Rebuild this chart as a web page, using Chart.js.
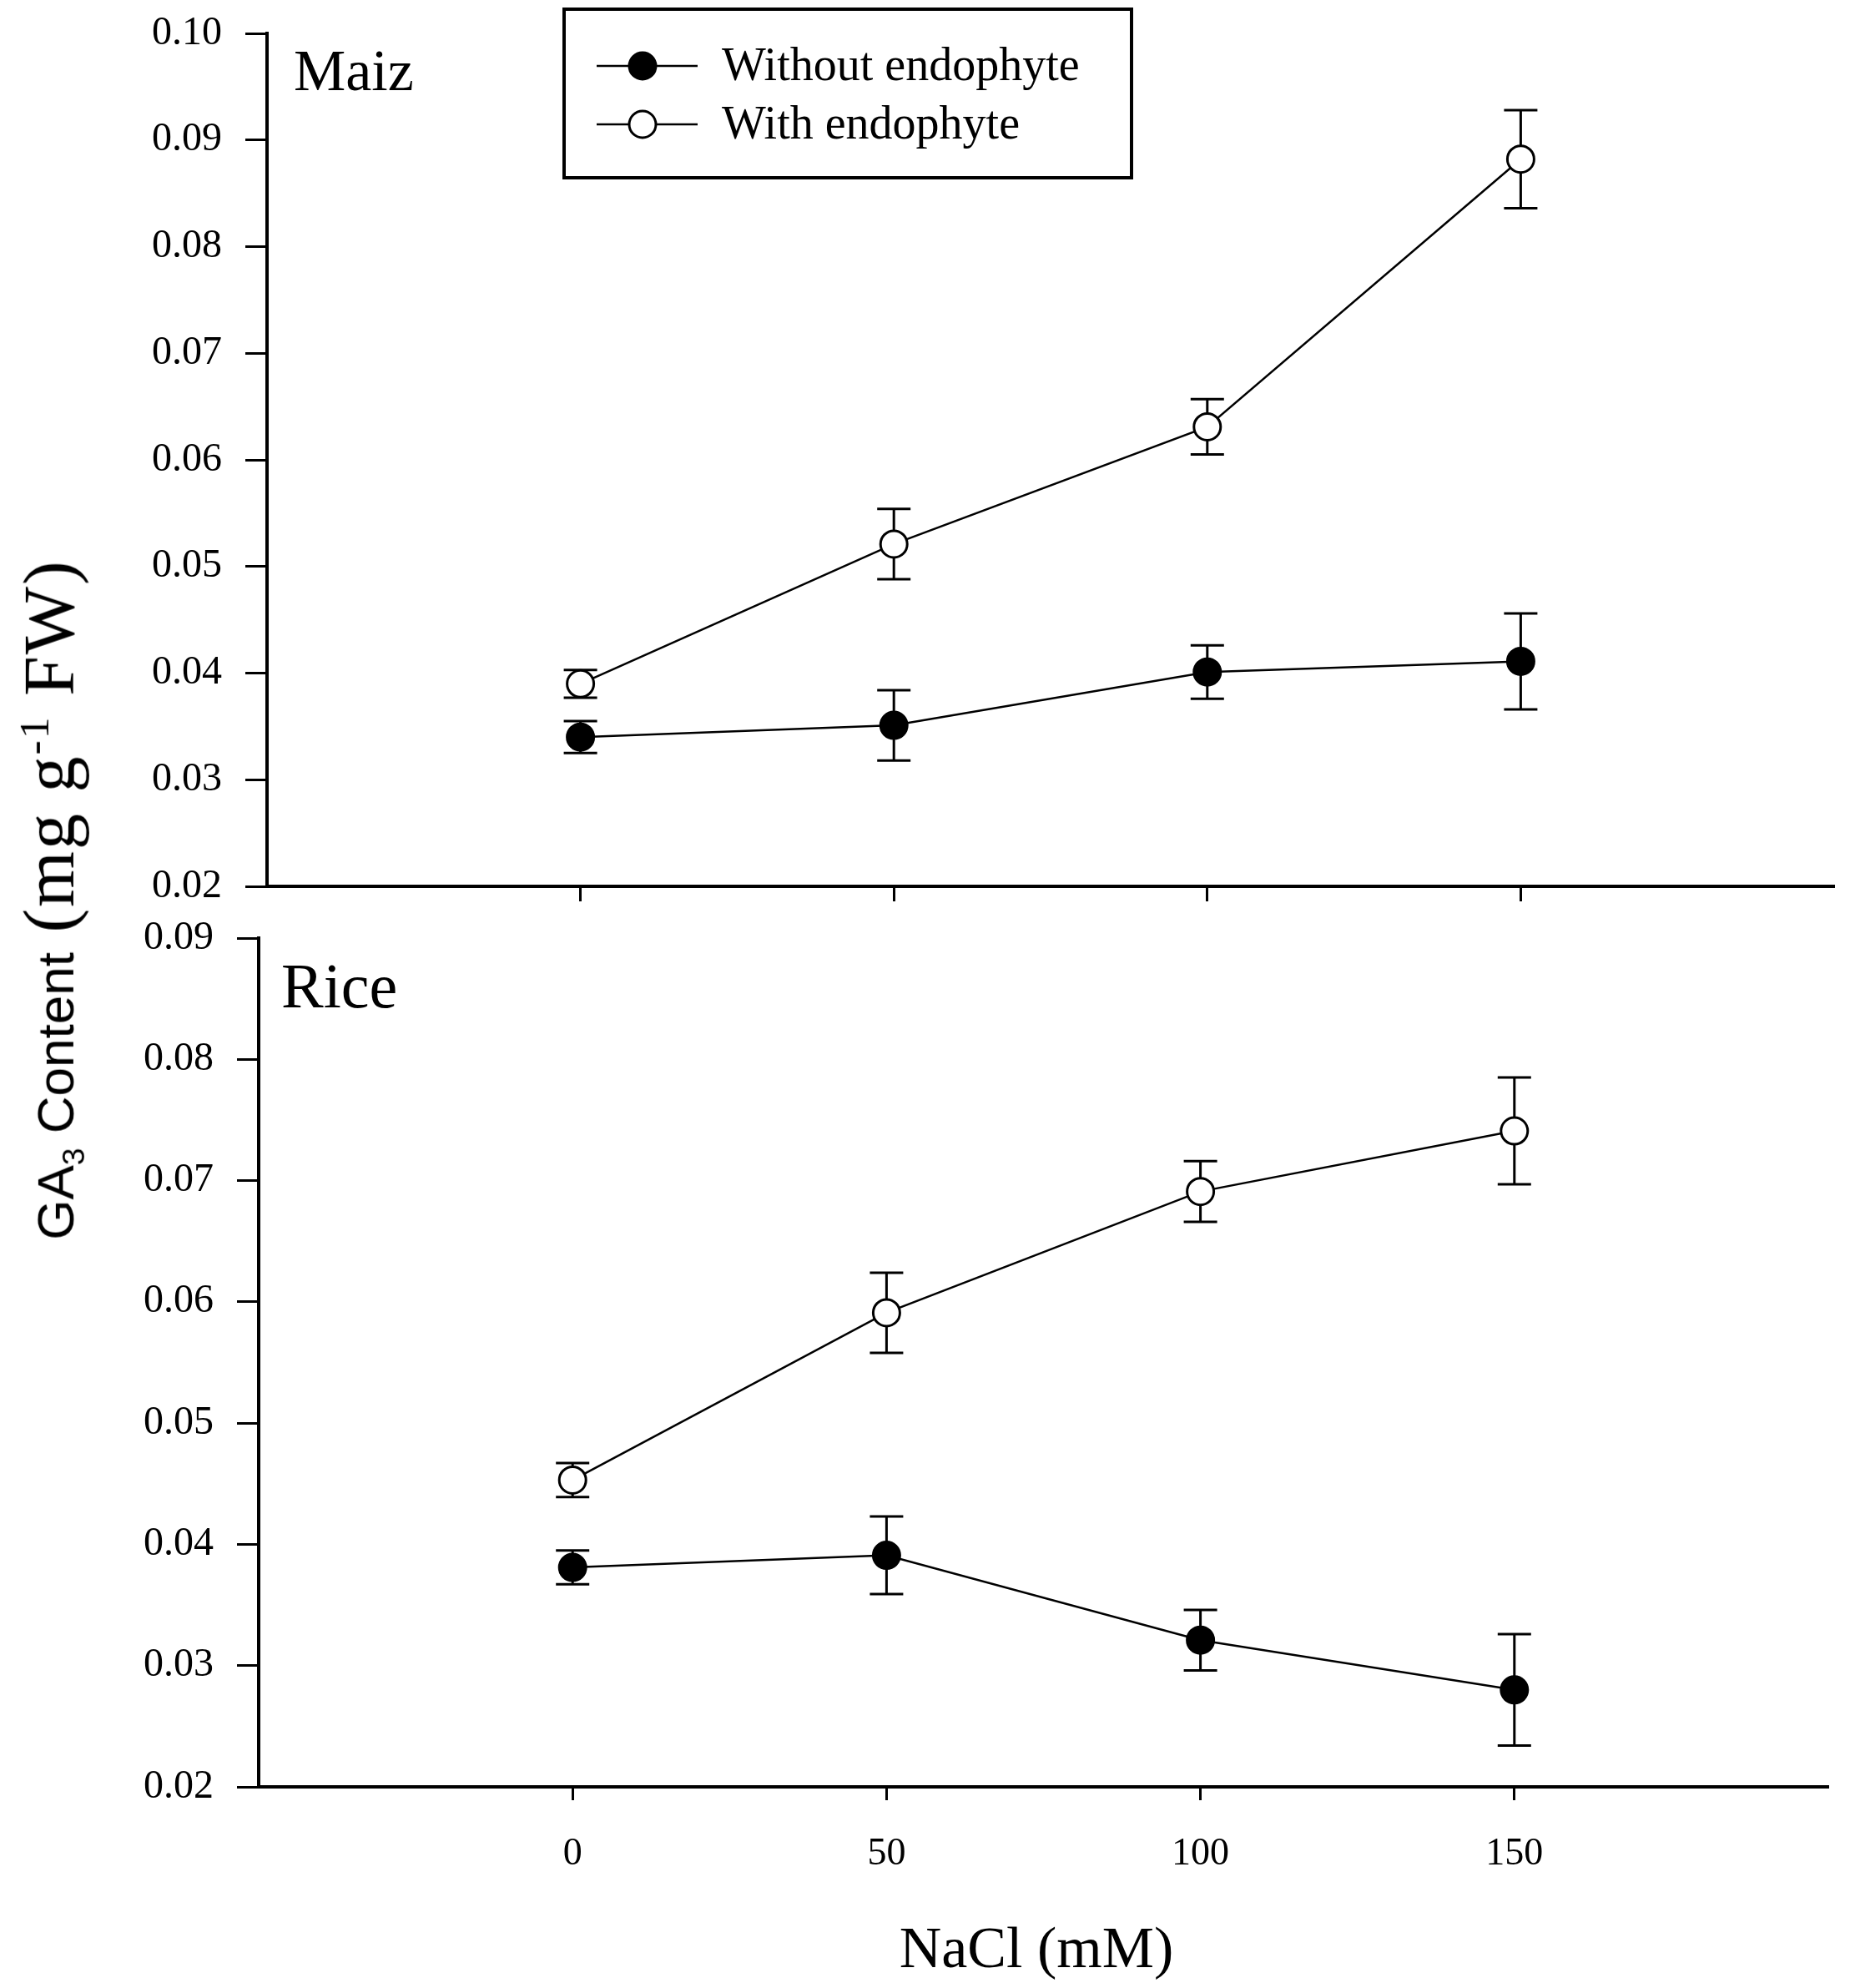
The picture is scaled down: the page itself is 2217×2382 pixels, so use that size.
<!DOCTYPE html>
<html>
<head>
<meta charset="utf-8">
<script src="https://cdn.jsdelivr.net/npm/chart.js@4.4.1/dist/chart.umd.min.js"></script>
<style>
  html, body { margin: 0; padding: 0; background: #fff; }
  #wrap { position: relative; width: 2217px; height: 2382px; overflow: hidden; }
  canvas { position: absolute; left: 0; }
  #maiz { top: 0; }
  #rice { top: 1080px; }
  .txt { position: absolute; white-space: nowrap; color: #000; }
  #ytitle { left: 61px; top: 1078px; transform: translate(-50%, -50%) rotate(-90deg); line-height: 1; }
  #ytitle .sans { font-family: "Liberation Sans", Arial, sans-serif; font-size: 62px; }
  #ytitle .serif { font-family: "Liberation Serif", "Times New Roman", serif; font-size: 86px; letter-spacing: 2px; }
  #ytitle sub, #ytitle sup { font-size: 0.6em; }
  #xtitle { left: 1242px; top: 2334px; transform: translate(-50%, -50%);
            font-family: "Liberation Serif", "Times New Roman", serif; font-size: 70px; }
</style>
</head>
<body>
<div id="wrap">
  <canvas id="maiz" width="2217" height="1100"></canvas>
  <canvas id="rice" width="2217" height="1302"></canvas>
  <div id="ytitle" class="txt"><span class="sans">GA<sub>3</sub> Content</span><span class="serif"> (mg g<sup>-1</sup> FW)</span></div>
  <div id="xtitle" class="txt">NaCl (mM)</div>
</div>
<script>
// NaCl concentration (mM)
const nacl = [0, 50, 100, 150];

// Maiz, GA3 content (mg g-1 FW)
const maizWithout = [0.0340, 0.0351, 0.0401, 0.0411];
const maizWithoutErr = [0.0015, 0.0033, 0.0025, 0.0045];
const maizWith = [0.0390, 0.0521, 0.0631, 0.0882];
const maizWithErr = [0.0013, 0.0033, 0.0026, 0.0046];

// Rice
const riceWithout = [0.0381, 0.0391, 0.0321, 0.0280];
const riceWithoutErr = [0.0014, 0.0032, 0.0025, 0.0046];
const riceWith = [0.0453, 0.0591, 0.0691, 0.0741];
const riceWithErr = [0.0014, 0.0033, 0.0025, 0.0044];

// tick labels
const xTicks = [0, 50, 100, 150];
const maizYTicks = [0.02, 0.03, 0.04, 0.05, 0.06, 0.07, 0.08, 0.09, 0.10];
const riceYTicks = [0.02, 0.03, 0.04, 0.05, 0.06, 0.07, 0.08, 0.09];

const seriesNames = ['Without endophyte', 'With endophyte'];

const SERIF = '"Liberation Serif", "Times New Roman", serif';

function pts(xs, ys) {
  return xs.map((x, i) => ({ x: x, y: ys[i] }));
}

function dataset(label, values, errs, fill) {
  return {
    label: label,
    data: pts(nacl, values),
    errors: errs,
    borderColor: '#000',
    borderWidth: 2.5,
    pointRadius: 16,
    pointBorderWidth: 3,
    pointBorderColor: '#000',
    pointBackgroundColor: fill,
    fill: false,
    tension: 0
  };
}

// vertical error bars with caps, drawn under the markers
const errorBars = {
  id: 'errorBars',
  beforeDatasetsDraw(chart) {
    const ctx = chart.ctx;
    const xs = chart.scales.x, ys = chart.scales.y;
    ctx.save();
    ctx.strokeStyle = '#000';
    ctx.lineWidth = 3;
    chart.data.datasets.forEach(ds => {
      ds.data.forEach((p, i) => {
        const e = ds.errors[i];
        const px = xs.getPixelForValue(p.x);
        const top = ys.getPixelForValue(p.y + e);
        const bot = ys.getPixelForValue(p.y - e);
        ctx.beginPath();
        ctx.moveTo(px, top); ctx.lineTo(px, bot);
        ctx.moveTo(px - 20, top); ctx.lineTo(px + 20, top);
        ctx.moveTo(px - 20, bot); ctx.lineTo(px + 20, bot);
        ctx.stroke();
      });
    });
    ctx.restore();
  }
};

// panel name and boxed legend
const panelText = {
  id: 'panelText',
  afterDraw(chart, args, opts) {
    const ctx = chart.ctx;
    ctx.save();
    ctx.fillStyle = '#000';
    ctx.textBaseline = 'alphabetic';
    ctx.font = opts.size + 'px ' + SERIF;
    ctx.fillText(opts.name, opts.x, opts.y);
    if (opts.legend) {
      const b = opts.legend;
      ctx.lineWidth = 4;
      ctx.strokeStyle = '#000';
      ctx.strokeRect(b.x, b.y, b.w, b.h);
      chart.data.datasets.forEach((ds, i) => {
        const ry = b.row0 + i * b.rowGap;
        ctx.lineWidth = 2.5;
        ctx.beginPath();
        ctx.moveTo(b.x + 39, ry); ctx.lineTo(b.x + 160, ry);
        ctx.stroke();
        ctx.beginPath();
        ctx.arc(b.x + 94, ry, 16, 0, Math.PI * 2);
        ctx.fillStyle = ds.pointBackgroundColor;
        ctx.fill();
        ctx.lineWidth = 3;
        ctx.stroke();
        ctx.fillStyle = '#000';
        ctx.font = '56px ' + SERIF;
        ctx.textBaseline = 'middle';
        ctx.fillText(ds.label, b.x + 189, ry + 2);
      });
    }
    ctx.restore();
  }
};

// keep the plot area where the layout padding puts it
function noLabelPadding(s) {
  s.paddingTop = 0;
  s.paddingBottom = 0;
  s.paddingLeft = 0;
  s.paddingRight = 0;
}

function makeChart(id, withoutVals, withoutErr, withVals, withErr, yTicks, opt) {
  return new Chart(document.getElementById(id), {
    type: 'line',
    data: {
      datasets: [
        dataset(seriesNames[0], withoutVals, withoutErr, '#000'),
        dataset(seriesNames[1], withVals, withErr, '#fff')
      ]
    },
    plugins: [errorBars, panelText],
    options: {
      responsive: false,
      devicePixelRatio: 1,
      animation: false,
      layout: { padding: opt.padding },
      plugins: {
        legend: { display: false },
        tooltip: { enabled: false },
        panelText: opt.text
      },
      scales: {
        x: {
          type: 'linear',
          min: -50,
          max: 200,
          afterBuildTicks: s => { s.ticks = xTicks.map(v => ({ value: v })); },
          afterFit: s => { s.height = opt.xHeight; noLabelPadding(s); },
          grid: { drawOnChartArea: false, tickLength: opt.xTickLen, tickWidth: 3, color: '#000' },
          border: { display: true, width: 4, color: '#000' },
          ticks: {
            display: opt.xLabels,
            padding: 37,
            color: '#000',
            font: { family: SERIF, size: 46 }
          }
        },
        y: {
          type: 'linear',
          min: yTicks[0],
          max: yTicks[yTicks.length - 1],
          afterBuildTicks: s => { s.ticks = yTicks.map(v => ({ value: v })); },
          afterFit: s => { s.width = opt.yWidth; noLabelPadding(s); },
          grid: { drawOnChartArea: false, tickLength: 26, tickWidth: 3, color: '#000' },
          border: { display: true, width: 4, color: '#000' },
          ticks: {
            padding: 28,
            color: '#000',
            font: { family: SERIF, size: 48 },
            callback: v => Number(v).toFixed(2)
          }
        }
      }
    }
  });
}

makeChart('maiz', maizWithout, maizWithoutErr, maizWith, maizWithErr, maizYTicks, {
  padding: { left: 0, top: 40, right: 12, bottom: 0 },
  xHeight: 38,
  xTickLen: 18,
  xLabels: false,
  yWidth: 320,
  text: {
    name: 'Maiz', size: 70, x: 352, y: 108,
    legend: { x: 676, y: 11, w: 680, h: 202, row0: 79, rowGap: 70 }
  }
});

makeChart('rice', riceWithout, riceWithoutErr, riceWith, riceWithErr, riceYTicks, {
  padding: { left: 0, top: 44, right: 26, bottom: 0 },
  xHeight: 241,
  xTickLen: 16,
  xLabels: true,
  yWidth: 310,
  text: { name: 'Rice', size: 76, x: 337, y: 127 }
});
</script>
</body>
</html>
